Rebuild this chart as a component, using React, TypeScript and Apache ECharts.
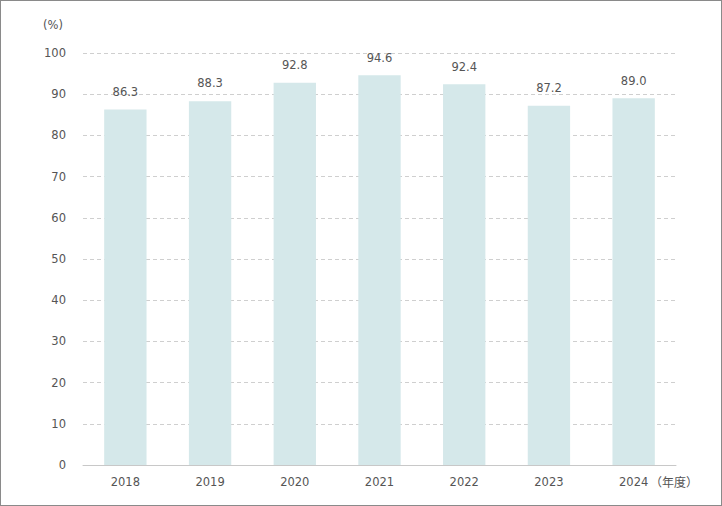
import React, { useEffect, useRef } from "react";
import * as echarts from "echarts";

const categories = ["2018", "2019", "2020", "2021", "2022", "2023", "2024"];
const values = [86.3, 88.3, 92.8, 94.6, 92.4, 87.2, 89.0];
const yTicks = { min: 0, max: 100, interval: 10 };

export default function App() {
  const ref = useRef<HTMLDivElement>(null);
  useEffect(() => {
    if (!ref.current) return;
    const chart = echarts.init(ref.current, null, { renderer: "svg" });
    const font = "'DejaVu Sans', 'Noto Sans CJK JP', sans-serif";
    const cjk = "'Noto Sans CJK JP', sans-serif";
    chart.setOption({
      animation: false,
      textStyle: { fontFamily: font },
      grid: { left: 82, right: 45, top: 52, bottom: 40, containLabel: false },
      xAxis: {
        type: "category",
        data: categories,
        axisLine: { lineStyle: { color: "#c8c8c8" } },
        axisTick: { show: false },
        axisLabel: { color: "#555", fontSize: 11.5, margin: 11, fontFamily: font },
      },
      yAxis: {
        type: "value",
        min: yTicks.min,
        max: yTicks.max,
        interval: yTicks.interval,
        axisLine: { show: false },
        axisTick: { show: false },
        axisLabel: { color: "#555", fontSize: 11.5, margin: 17, fontFamily: font },
        splitLine: { lineStyle: { color: "#cfcfcf", type: [4, 3] } },
      },
      series: [
        {
          type: "bar",
          data: values,
          barWidth: "50%",
          itemStyle: { color: "#d5e8ea" },
          label: {
            show: true,
            position: "top",
            distance: 12,
            color: "#555",
            fontSize: 11.5,
            fontFamily: font,
            formatter: (p: any) => Number(p.value).toFixed(1),
          },
        },
      ],
      graphic: [
        {
          type: "text",
          left: 42,
          top: 18,
          style: { text: "(%)", fill: "#555", fontSize: 11.5, fontFamily: font },
        },
        {
          type: "text",
          left: 649,
          top: 474,
          style: { text: "（年度）", fill: "#555", fontSize: 12, fontFamily: cjk },
        },
      ],
    });
    return () => chart.dispose();
  }, []);
  return (
    <div
      style={{
        position: "fixed",
        left: 0,
        top: 0,
        width: 722,
        height: 506,
        boxSizing: "border-box",
        border: "1px solid #8a8a8a",
        background: "#fff",
      }}
    >
      <div ref={ref} style={{ width: 720, height: 504 }} />
    </div>
  );
}
